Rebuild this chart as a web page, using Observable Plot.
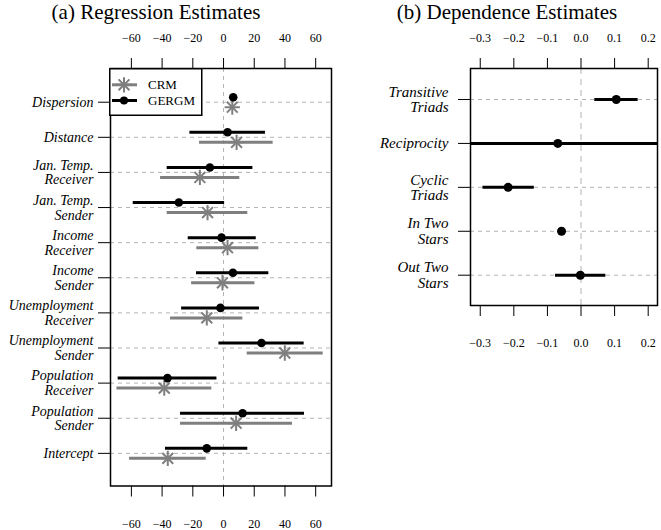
<!DOCTYPE html>
<html><head><meta charset="utf-8">
<script src="https://cdn.jsdelivr.net/npm/d3@7"></script>
<script src="https://cdn.jsdelivr.net/npm/@observablehq/plot@0.6"></script>
<style>
body{margin:0;background:#fff;}
#wrap{position:relative;width:661px;height:530px;font-family:"Liberation Serif","Times New Roman","DejaVu Serif",serif;overflow:hidden;}
.title{position:absolute;font-size:21px;white-space:nowrap;line-height:1;color:#000;transform:translateX(-50%);}
#left,#right,#legend{position:absolute;}
</style></head><body>
<div id="wrap">
<div id="left" style="left:0;top:0"></div>
<div id="right" style="left:340px;top:0"></div>
<div class="title" style="left:156px;top:2px">(a) Regression Estimates</div>
<div class="title" style="left:507px;top:2px">(b) Dependence Estimates</div>
</div>
<script>
// ---- Panel (a) data ----
const regLabels = ["Dispersion","Distance","Jan. Temp.\nReceiver","Jan. Temp.\nSender","Income\nReceiver","Income\nSender","Unemployment\nReceiver","Unemployment\nSender","Population\nReceiver","Population\nSender","Intercept"];
const gergmEst = [6.3, 2.6, -8.9, -29.1, -1.3, 6.1, -2.0, 24.7, -36.5, 12.4, -10.9];
const gergmLo  = [5.3, -21.9, -36.7, -58.8, -23.0, -17.6, -27.3, -3.0, -68.6, -28.0, -37.8];
const gergmHi  = [7.3, 27.3, 19.1, 0.7, 21.3, 29.5, 23.4, 52.5, -4.3, 52.7, 15.8];
const crmEst = [5.7, 8.5, -15.4, -10.4, 2.6, -0.7, -10.9, 39.9, -38.6, 8.2, -36.3];
const crmLo  = [5.0, -15.6, -41.0, -36.7, -17.4, -20.8, -34.5, 15.4, -69.4, -28.0, -61.2];
const crmHi  = [6.4, 32.3, 10.6, 15.8, 23.0, 20.4, 12.6, 64.9, -7.6, 44.9, -11.3];
const regTicks = [-60, -40, -20, 0, 20, 40, 60];

// ---- Panel (b) data ----
const depLabels = ["Transitive\nTriads","Reciprocity","Cyclic\nTriads","In Two\nStars","Out Two\nStars"];
const depEst = [0.105, -0.069, -0.217, -0.058, -0.002];
const depLo  = [0.041, -0.45, -0.292, -0.062, -0.076];
const depHi  = [0.170, 0.31, -0.139, -0.054, 0.074];
const depTicks = [-0.3, -0.2, -0.1, 0.0, 0.1, 0.2];

const legendLabels = ["CRM", "GERGM"];

const gray = "#7f7f7f";
const gridColor = "#b3b3b3";
const fontFamily = "'Liberation Serif', 'Times New Roman', 'DejaVu Serif', serif";

const regRows = regLabels.map((label, i) => ({i, label}));
const gergm = regLabels.map((l, i) => ({i, est: gergmEst[i], lo: gergmLo[i], hi: gergmHi[i]}));
const crm = regLabels.map((l, i) => ({i, est: crmEst[i], lo: crmLo[i], hi: crmHi[i]}));

const left = Plot.plot({
  width: 336, height: 530,
  marginLeft: 110, marginRight: 5, marginTop: 68, marginBottom: 44.5,
  style: {fontFamily, fontSize: "12px", background: "transparent", overflow: "visible", color: "#000"},
  x: {domain: [-73.6, 70.3], label: null},
  y: {domain: [-0.96, 10.93], reverse: true, label: null},
  marks: [
    Plot.ruleY(regRows, {y: "i", stroke: gridColor, strokeDasharray: "4,4", strokeWidth: 1}),
    Plot.ruleX([0], {stroke: gridColor, strokeDasharray: "4,4", strokeWidth: 1}),
    Plot.ruleY(crm, {y: "i", x1: "lo", x2: "hi", dy: 5, stroke: gray, strokeWidth: 3}),
    Plot.dot(crm, {y: "i", x: "est", dy: 5, symbol: "plus", r: 5, stroke: gray, strokeWidth: 2}),
    Plot.dot(crm, {y: "i", x: "est", dy: 5, symbol: "times", r: 5, stroke: gray, strokeWidth: 2}),
    Plot.ruleY(gergm, {y: "i", x1: "lo", x2: "hi", dy: -5, stroke: "black", strokeWidth: 3}),
    Plot.dot(gergm, {y: "i", x: "est", dy: -5, r: 4.3, fill: "black"}),
    Plot.frame({stroke: "black", strokeWidth: 1.5}),
    Plot.axisX({anchor: "top", ticks: regTicks, tickFormat: d3.format("d"), tickSize: 11, tickPadding: 16, fontSize: 12, fontFamily, label: null}),
    Plot.axisX({anchor: "bottom", ticks: regTicks, tickFormat: d3.format("d"), tickSize: 11, tickPadding: 22, fontSize: 12, fontFamily, label: null}),
    Plot.axisY({ticks: regRows.map(d => d.i), tickFormat: i => regLabels[i], tickSize: 12, tickPadding: 5, fontSize: 14, fontStyle: "italic", fontFamily, lineHeight: 1.05, label: null})
  ]
});
document.getElementById("left").appendChild(left);

const depRows = depLabels.map((label, i) => ({i, label, est: depEst[i], lo: depLo[i], hi: depHi[i]}));

const right = Plot.plot({
  width: 321, height: 360,
  marginLeft: 130, marginRight: 4, marginTop: 68, marginBottom: 55,
  style: {fontFamily, fontSize: "12px", background: "transparent", overflow: "visible", color: "#000"},
  x: {domain: [-0.329, 0.2277], label: null},
  y: {domain: [-0.706, 4.69], reverse: true, label: null},
  marks: [
    Plot.ruleY(depRows, {y: "i", stroke: gridColor, strokeDasharray: "4,4", strokeWidth: 1}),
    Plot.ruleX([0], {stroke: gridColor, strokeDasharray: "6,5", strokeWidth: 1}),
    Plot.ruleY(depRows, {y: "i", x1: "lo", x2: "hi", stroke: "black", strokeWidth: 3, clip: true}),
    Plot.dot(depRows, {y: "i", x: "est", r: 4.5, fill: "black"}),
    Plot.frame({stroke: "black", strokeWidth: 1.5}),
    Plot.axisX({anchor: "top", ticks: depTicks, tickFormat: d3.format(".1f"), tickSize: 11, tickPadding: 16, fontSize: 12, fontFamily, label: null}),
    Plot.axisX({anchor: "bottom", ticks: depTicks, tickFormat: d3.format(".1f"), tickSize: 11, tickPadding: 22, fontSize: 12, fontFamily, label: null}),
    Plot.axisY({ticks: depRows.map(d => d.i), tickFormat: i => depLabels[i], tickSize: 12, tickPadding: 10, fontSize: 15, fontStyle: "italic", fontFamily, lineHeight: 1.05, label: null})
  ]
});
document.getElementById("right").appendChild(right);

// ---- legend ----
const wrap = d3.select("#wrap");
const lg = wrap.append("svg").attr("id", "legend")
  .attr("width", 94).attr("height", 49)
  .style("left", "109px").style("top", "67.5px")
  .style("font-family", fontFamily).style("font-size", "13px");
lg.append("rect").attr("x", 0.75).attr("y", 0.75).attr("width", 92).attr("height", 46.5)
  .attr("fill", "white").attr("stroke", "black").attr("stroke-width", 1.5);
const r = 5, size = Math.PI * r * r;
// CRM entry
lg.append("line").attr("x1", 3).attr("x2", 28).attr("y1", 16.8).attr("y2", 16.8).attr("stroke", gray).attr("stroke-width", 3);
[d3.symbolPlus, d3.symbolTimes].forEach(s => lg.append("path").attr("d", d3.symbol(s, size)()).attr("transform", "translate(15,16.8)")
  .attr("fill", "none").attr("stroke", gray).attr("stroke-width", 2));
lg.append("text").attr("x", 39).attr("y", 21.3).text(legendLabels[0]);
// GERGM entry
lg.append("line").attr("x1", 3).attr("x2", 28).attr("y1", 32.5).attr("y2", 32.5).attr("stroke", "black").attr("stroke-width", 3);
lg.append("circle").attr("cx", 15).attr("cy", 32.5).attr("r", 4).attr("fill", "black");
lg.append("text").attr("x", 39).attr("y", 37).text(legendLabels[1]);
</script>
</body></html>
